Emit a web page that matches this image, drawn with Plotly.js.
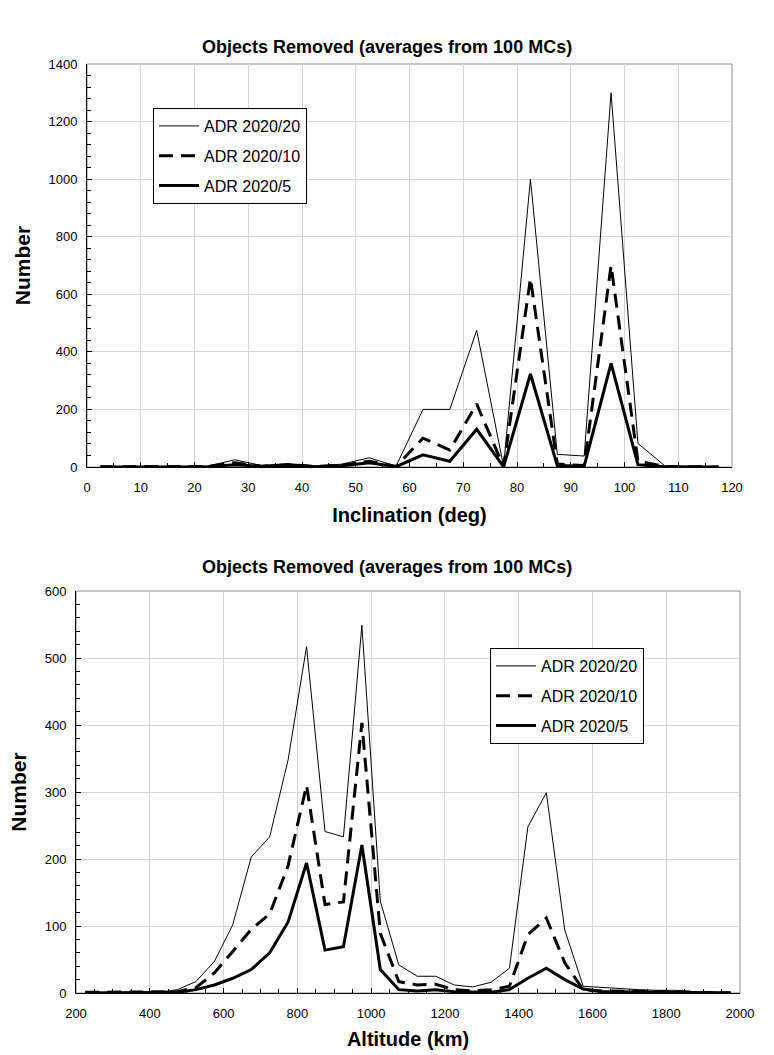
<!DOCTYPE html>
<html>
<head>
<meta charset="utf-8">
<script src="https://cdn.plot.ly/plotly-3.0.1.min.js"></script>
<style>
  html, body { margin: 0; padding: 0; background: #ffffff; }
  #chart { width: 774px; height: 1055px; }
</style>
</head>
<body>
<div id="chart"></div>
<script>
// ---------- Data: top chart (inclination bins, deg) ----------
const inclination = [2.5, 7.5, 12.5, 17.5, 22.5, 27.5, 32.5, 37.5, 42.5, 47.5, 52.5, 57.5,
                     62.5, 67.5, 72.5, 77.5, 82.5, 87.5, 92.5, 97.5, 102.5, 107.5, 112.5, 117.5];
const incADR20 = [2, 1, 1, 2, 3, 25, 5, 12, 3, 10, 32, 3,
                  200, 200, 475, 2, 1000, 44, 38, 1300, 82, 4, 2, 1];
const incADR10 = [1, 1, 1, 1, 2, 15, 3, 8, 2, 6, 20, 2,
                  100, 59, 219, 1, 655, 10, 5, 700, 20, 2, 1, 0];
const incADR5  = [0, 0, 1, 1, 1, 8, 2, 6, 1, 4, 15, 1,
                  42, 20, 131, 1, 323, 5, 3, 360, 8, 1, 0, 0];

// ---------- Data: bottom chart (altitude bins, km) ----------
const altitude = [225, 275, 325, 375, 425, 475, 525, 575, 625, 675, 725, 775,
                  825, 875, 925, 975, 1025, 1075, 1125, 1175, 1225, 1275, 1325, 1375,
                  1425, 1475, 1525, 1575, 1625, 1675, 1725, 1775, 1825, 1875, 1925, 1975];
const altADR20 = [1, 1, 1, 1, 1, 5, 17, 47, 102, 203, 233, 348,
                  517, 241, 233, 549, 137, 42, 25, 25, 12, 9, 16, 37,
                  248, 299, 94, 10, 8, 7, 5, 4, 4, 2, 2, 1];
const altADR10 = [1, 1, 1, 1, 1, 2, 8, 30, 62, 95, 118, 190,
                  310, 132, 136, 403, 89, 17, 12, 13, 5, 3, 5, 10,
                  87, 112, 45, 5, 3, 3, 2, 2, 2, 1, 1, 0];
const altADR5  = [0, 0, 0, 0, 1, 1, 5, 12, 22, 35, 60, 106,
                  194, 64, 69, 221, 35, 5, 3, 5, 2, 1, 1, 5,
                  22, 37, 20, 6, 2, 2, 1, 1, 1, 1, 0, 0];

const seriesNames = ['ADR 2020/20', 'ADR 2020/10', 'ADR 2020/5'];
const chartTitle = 'Objects Removed (averages from 100 MCs)';

// ---------- Styles ----------
const FONT = 'Liberation Sans, Arial, Helvetica, sans-serif';
const lineStyles = [
  {color: '#000000', width: 1},
  {color: '#000000', width: 3, dash: '14px,8px'},
  {color: '#000000', width: 3}
];

function mk(x, y, i, xa, ya, legend) {
  return {
    type: 'scatter', mode: 'lines', x: x, y: y, name: seriesNames[i],
    line: lineStyles[i], xaxis: xa, yaxis: ya, legend: legend,
    legendgroup: legend + '_' + i, hoverinfo: 'x+y'
  };
}

const traces = [
  mk(inclination, incADR20, 0, 'x', 'y', 'legend'),
  mk(inclination, incADR10, 1, 'x', 'y', 'legend'),
  mk(inclination, incADR5, 2, 'x', 'y', 'legend'),
  mk(altitude, altADR20, 0, 'x2', 'y2', 'legend2'),
  mk(altitude, altADR10, 1, 'x2', 'y2', 'legend2'),
  mk(altitude, altADR5, 2, 'x2', 'y2', 'legend2')
];

const W = 774, H = 1055;
const axCommon = {
  showgrid: true, gridcolor: '#d4d4d4', gridwidth: 1,
  showline: true, linecolor: '#000000', linewidth: 1,
  ticks: 'inside', ticklen: 5, tickcolor: '#000000', tickwidth: 1,
  zeroline: false, tickfont: {family: FONT, size: 13, color: '#000000'},
  fixedrange: true
};
function ax(extra) { return Object.assign({}, axCommon, extra); }

const legendCommon = {
  bgcolor: '#ffffff', bordercolor: '#000000', borderwidth: 1,
  font: {family: FONT, size: 16, color: '#000000'},
  xanchor: 'left', yanchor: 'top', tracegroupgap: 6,
  itemwidth: 40, entrywidth: 170, entrywidthmode: 'pixels',
  xref: 'paper', yref: 'paper'
};

const layout = {
  width: W, height: H,
  margin: {l: 0, r: 0, t: 0, b: 0},
  paper_bgcolor: '#ffffff', plot_bgcolor: '#ffffff',
  font: {family: FONT, color: '#000000'},
  showlegend: true,
  xaxis: ax({
    domain: [87 / W, 732 / W], anchor: 'y', range: [0, 120], dtick: 10, tick0: 0,
    ticklabelstandoff: 8,
    minor: {dtick: 5, ticks: 'inside', ticklen: 4, tickcolor: '#000000', showgrid: false},
    title: {text: 'Inclination (deg)', font: {family: FONT, size: 20, weight: 'bold'}, standoff: 14}
  }),
  yaxis: ax({
    domain: [1 - 467 / H, 1 - 64 / H], anchor: 'x', range: [0, 1400], dtick: 200, tick0: 0,
    ticklabelstandoff: 6,
    minor: {dtick: 40, ticks: 'inside', ticklen: 4, tickcolor: '#000000', showgrid: false},
    title: {text: 'Number', font: {family: FONT, size: 21, weight: 'bold'}, standoff: 12}
  }),
  xaxis2: ax({
    domain: [76 / W, 740 / W], anchor: 'y2', range: [200, 2000], dtick: 200, tick0: 0,
    ticklabelstandoff: 8,
    minor: {dtick: 50, ticks: 'inside', ticklen: 4, tickcolor: '#000000', showgrid: false},
    title: {text: 'Altitude (km)', font: {family: FONT, size: 20, weight: 'bold'}, standoff: 12}
  }),
  yaxis2: ax({
    domain: [1 - 993 / H, 1 - 591 / H], anchor: 'x2', range: [0, 600], dtick: 100, tick0: 0,
    ticklabelstandoff: 6,
    minor: {dtick: 20, ticks: 'inside', ticklen: 4, tickcolor: '#000000', showgrid: false},
    title: {text: 'Number', font: {family: FONT, size: 21, weight: 'bold'}, standoff: 12}
  }),
  legend: Object.assign({}, legendCommon, {x: 153 / W, y: 1 - 108 / H}),
  legend2: Object.assign({}, legendCommon, {x: 490 / W, y: 1 - 648 / H}),
  shapes: [
    {type: 'rect', xref: 'x domain', yref: 'y domain', x0: 0, x1: 1, y0: 0, y1: 1,
     line: {color: '#8c8c8c', width: 1}, layer: 'below'},
    {type: 'rect', xref: 'x2 domain', yref: 'y2 domain', x0: 0, x1: 1, y0: 0, y1: 1,
     line: {color: '#8c8c8c', width: 1}, layer: 'below'}
  ],
  annotations: [
    {text: '<b>' + chartTitle + '</b>', xref: 'paper', yref: 'paper',
     x: 387 / W, y: 1 - 47 / H, xanchor: 'center', yanchor: 'middle', showarrow: false,
     font: {family: FONT, size: 18, color: '#000000'}},
    {text: '<b>' + chartTitle + '</b>', xref: 'paper', yref: 'paper',
     x: 387 / W, y: 1 - 567 / H, xanchor: 'center', yanchor: 'middle', showarrow: false,
     font: {family: FONT, size: 18, color: '#000000'}}
  ]
};

Plotly.newPlot('chart', traces, layout, {staticPlot: true, displayModeBar: false});
</script>
</body>
</html>
